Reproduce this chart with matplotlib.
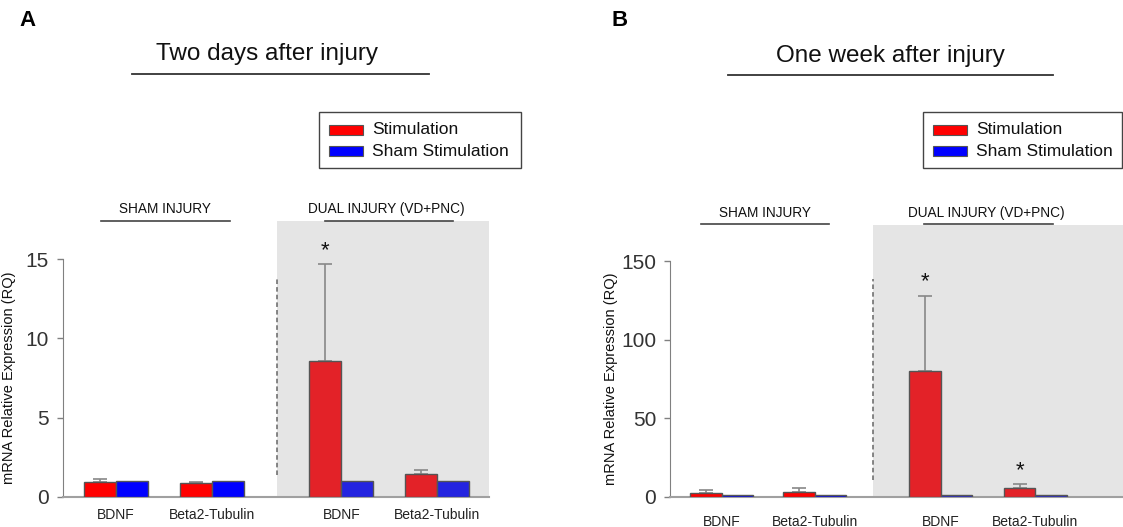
import matplotlib.pyplot as plt
from matplotlib.patches import Rectangle
from matplotlib.lines import Line2D

plt.rcParams['font.family'] = ['Liberation Sans', 'DejaVu Sans']

# data
genes = ['BDNF', 'Beta2-Tubulin', 'BDNF', 'Beta2-Tubulin']
groups = ['SHAM INJURY', 'DUAL INJURY (VD+PNC)']

stim_2d = [0.92, 0.87, 8.55, 1.42]
stim_2d_err = [0.23, 0.05, 6.15, 0.27]
sham_2d = [1.0, 1.0, 1.0, 1.0]
sig_2d = [False, False, True, False]

stim_1w = [2.7, 3.4, 80.0, 5.5]
stim_1w_err = [1.9, 2.5, 48.0, 2.5]
sham_1w = [1.0, 1.0, 1.0, 1.0]
sig_1w = [False, False, True, True]

fig = plt.figure(figsize=(11.23, 5.27), dpi=100)
W, H = 1123, 527


def fx(px):
    return px / W


def fy(py):
    return 1 - py / H


def hline(x0, x1, y, lw=1.3, color='#333333'):
    fig.add_artist(Line2D([fx(x0), fx(x1)], [fy(y), fy(y)], color=color, lw=lw,
                          transform=fig.transFigure))


def draw_panel(rect, stim, err, sham, sig, pos, xmax, shade_x, ymax, ytop, yticks, star_off,
               dash, xpad):
    ax = fig.add_axes(rect)
    ax.set_xlim(0, xmax)
    ax.set_ylim(0, ytop)
    ax.add_patch(Rectangle((shade_x, 0), xmax - shade_x, ytop, color='#e5e5e5', zorder=0, lw=0))
    ax.plot([shade_x, shade_x], [ytop * dash[0], ytop * dash[1]], ls=(0, (3, 2)), color='#666666',
            lw=1.1, zorder=1)
    for i, p in enumerate(pos):
        dual = i >= 2
        red = '#e32228' if dual else '#ff0000'
        blue = '#2424e0' if dual else '#0000ff'
        ax.bar(p - 0.5, stim[i], width=1, color=red, edgecolor='#555555', lw=1, zorder=3)
        ax.bar(p + 0.5, sham[i], width=1, color=blue, edgecolor='#555555', lw=1, zorder=3)
        ax.errorbar(p - 0.5, stim[i], yerr=[[0], [err[i]]], fmt='none', ecolor='#888888',
                    elinewidth=1.2, capsize=5, capthick=1.2, zorder=2)
        if sig[i]:
            ax.text(p - 0.5, stim[i] + err[i] + star_off, '*', ha='center', va='center',
                    fontsize=16, color='#111111')
    ax.set_xticks(pos)
    ax.set_xticklabels(genes, fontsize=10)
    ax.tick_params(axis='x', length=0, pad=xpad, colors='#222222')
    ax.set_yticks(yticks)
    ax.tick_params(axis='y', labelsize=15, colors='#808080', length=4, width=1, direction='out', pad=6)
    for t in ax.get_yticklabels():
        t.set_color('#333333')
    for s in ['top', 'right']:
        ax.spines[s].set_visible(False)
    ax.spines['left'].set_bounds(0, ymax)
    ax.spines['left'].set_color('#808080')
    ax.spines['bottom'].set_color('#a0a0a0')
    ax.spines['bottom'].set_linewidth(1.5)
    ax.set_ylabel('mRNA Relative Expression (RQ)', fontsize=10.5, color='#111111')
    ax.yaxis.set_label_coords(-0.11 if xmax < 14 else -0.115, ymax / ytop / 2)
    return ax


# panel A
axA = draw_panel([fx(63), fy(497), fx(489 - 63), (497 - 221) / H], stim_2d, stim_2d_err, sham_2d, sig_2d,
                 [1.65, 4.65, 8.7, 11.7], 13.31, 6.69, 15, 17.4, [0, 5, 10, 15], 0.85,
                 (0.08, 0.797), 8)
# panel B
axB = draw_panel([fx(670), fy(497), fx(1123 - 670), (497 - 225) / H], stim_1w, stim_1w_err, sham_1w, sig_1w,
                 [1.65, 4.6, 8.6, 11.6], 14.38, 6.44, 150, 172.9, [0, 50, 100, 150], 9,
                 (0.063, 0.80), 13)

# labels, titles
fig.text(fx(27), fy(20), 'A', fontsize=16, fontweight='bold', ha='center', va='center')
fig.text(fx(620), fy(20), 'B', fontsize=16, fontweight='bold', ha='center', va='center')

fig.text(fx(267), fy(54), 'Two days after injury', fontsize=17.5, ha='center', va='center', color='#111111')
hline(132, 429, 74)
fig.text(fx(890), fy(56), 'One week after injury', fontsize=17.5, ha='center', va='center', color='#111111')
hline(728, 1053, 75)

for (cx, x0, x1, ty, ly), g in zip([(165, 101, 230, 209, 221), (386, 325, 453, 209, 221),
                                    (765, 701, 829, 213, 224), (986, 924, 1053, 213, 224)],
                                   groups * 2):
    fig.text(fx(cx), fy(ty), g, fontsize=9.8, ha='center', va='center', color='#111111')
    hline(x0, x1, ly, lw=1.2, color='#444444')

# legends
for (x0, x1) in [(319, 521), (923, 1122)]:
    fig.add_artist(Rectangle((fx(x0), fy(168)), fx(x1 - x0), (168 - 112) / H, transform=fig.transFigure,
                             facecolor='white', edgecolor='#444444', lw=1))
    for k, (lab, c) in enumerate([('Stimulation', '#ff0000'), ('Sham Stimulation', '#0000ff')]):
        yc = 130 + k * 21
        fig.add_artist(Rectangle((fx(x0 + 10), fy(yc + 5)), fx(34), 10 / H, transform=fig.transFigure,
                                 facecolor=c, edgecolor='#555555', lw=0.8))
        fig.text(fx(x0 + 53), fy(yc), lab, fontsize=12.5, ha='left', va='center', color='#111111')

fig.savefig('out.png', dpi=100)
